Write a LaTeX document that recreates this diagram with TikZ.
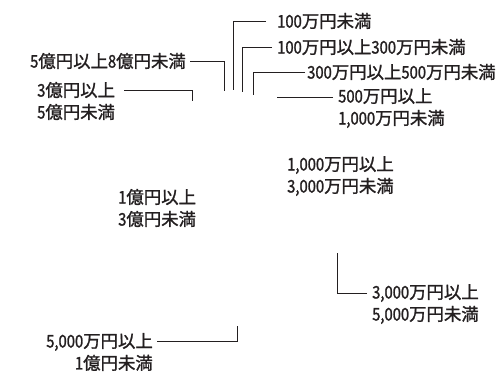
\documentclass[tikz,border=0pt]{standalone}
\usepackage{fontspec}
\setmainfont{Noto Sans CJK JP}[FakeBold=1.4]
\newfontfamily\amtfont{Noto Sans CJK JP}[FakeBold=1.4, FakeStretch=0.85]
\newcommand{\amt}[1]{{\amtfont #1}}
\definecolor{ink}{HTML}{231F20}
\begin{document}
\begin{tikzpicture}[x=1pt, y=-1pt,
    lbl/.style={inner sep=0pt, text=ink, font=\fontsize{17.4}{22}\selectfont},
    leader/.style={draw=ink, line width=0.8pt}]
      \useasboundingbox (0,0) rectangle (499,372); % page size
      % labels
      \node[lbl, anchor=west] (m100) at (277,21) {\amt{100}万円未満};
      \node[lbl, anchor=west] (m100to300) at (277,47) {\amt{100}万円以上\amt{300}万円未満};
      \node[lbl, anchor=west] (m300to500) at (307,72) {\amt{300}万円以上\amt{500}万円未満};
      \node[lbl, anchor=west, align=left] (m500to1000) at (338,108) {\amt{500}万円以上\\\amt{1,000}万円未満};
      \node[lbl, anchor=west, align=left] (m1000to3000) at (287,176) {\amt{1,000}万円以上\\\amt{3,000}万円未満};
      \node[lbl, anchor=west, align=left] (m3000to5000) at (372,304) {\amt{3,000}万円以上\\\amt{5,000}万円未満};
      \node[lbl, anchor=east, align=right] (m5000to1oku) at (153,352) {\amt{5,000}万円以上\\\amt{1}億円未満};
      \node[lbl, anchor=west, align=left] (oku1to3) at (118,208) {\amt{1}億円以上\\\amt{3}億円未満};
      \node[lbl, anchor=west, align=left] (oku3to5) at (37,101) {\amt{3}億円以上\\\amt{5}億円未満};
      \node[lbl, anchor=east] (oku5to8) at (186,61) {\amt{5}億円以上\amt{8}億円未満};
      % free ends of the leaders
      \coordinate (e100) at (233,90);
      \coordinate (e100to300) at (242,92);
      \coordinate (e300to500) at (253,95);
      \coordinate (e500to1000) at (277,99);
      \coordinate (e3000to5000) at (337,253);
      \coordinate (e5000to1oku) at (237,326);
      \coordinate (eoku3to5) at (192,101);
      \coordinate (eoku5to8) at (224,91);
      % leaders
      \draw[leader, shorten <=11pt] (m100.west) -| (e100);
      \draw[leader, shorten <=5pt] (m100to300.west) -| (e100to300);
      \draw[leader, shorten <=2pt] (m300to500.west) -| (e300to500);
      \draw[leader, shorten <=5pt] ([yshift=11pt]m500to1000.west) -- ([yshift=11pt]m500to1000.west -| e500to1000);
      \draw[leader, shorten <=5pt] ([yshift=11pt]m3000to5000.west) -| (e3000to5000);
      \draw[leader, shorten <=4pt] ([yshift=11pt]m5000to1oku.east) -| (e5000to1oku);
      \draw[leader, shorten <=9pt] ([yshift=11pt]oku3to5.east) -| (eoku3to5);
      \draw[leader, shorten <=4pt] (oku5to8.east) -| (eoku5to8);
  \end{tikzpicture}
\end{document}
